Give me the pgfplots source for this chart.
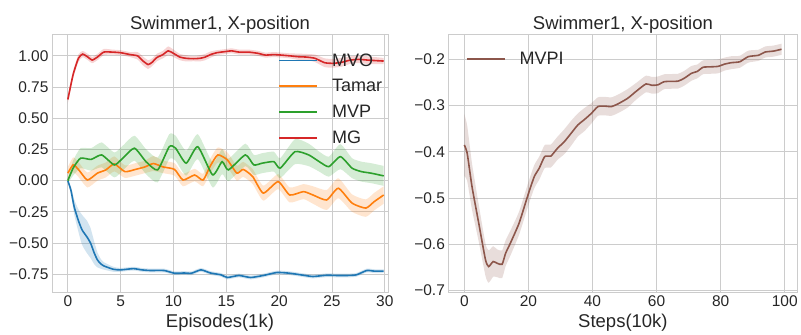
\documentclass[border=0pt]{standalone}
\usepackage{fontspec}
\setmainfont{Liberation Sans}
\usepackage{pgfplots}
\usepackage{pgfplotstable}
\pgfplotsset{compat=1.18}
\usepgfplotslibrary{fillbetween}
\definecolor{tabblue}{HTML}{1F77B4}
\definecolor{taborange}{HTML}{FF7F0E}
\definecolor{tabgreen}{HTML}{2CA02C}
\definecolor{tabred}{HTML}{D62728}
\definecolor{tabbrown}{HTML}{8C564B}
\definecolor{gridgray}{HTML}{CCCCCC}
\definecolor{txtgray}{HTML}{262626}

\pgfplotstableread{
x y e
0 0.65 0.03
0.5 0.85 0.03
1.0 0.98 0.03
1.4 1.014 0.025
1.9 0.99 0.025
2.3 0.966 0.025
2.8 0.99 0.025
3.4 1.03 0.025
4.2 1.03 0.02
5.0 1.025 0.02
5.9 1.01 0.02
6.6 1.0 0.03
7.1 0.96 0.035
7.6 0.93 0.035
8.0 0.95 0.03
8.4 0.985 0.03
9.0 1.01 0.03
9.5 1.04 0.035
10.0 1.02 0.03
10.6 0.99 0.025
11.2 0.98 0.025
11.9 0.977 0.02
12.5 0.98 0.025
13.0 0.99 0.025
13.5 1.01 0.025
14.1 1.025 0.02
15.0 1.035 0.02
15.5 1.04 0.02
16.2 1.03 0.02
17.1 1.03 0.02
18.0 1.02 0.02
18.7 1.006 0.02
19.5 1.01 0.02
20.2 1.006 0.02
21.0 1.0 0.02
21.8 0.993 0.025
22.6 0.99 0.025
23.4 0.98 0.03
24.3 0.945 0.035
25.1 0.94 0.035
25.9 0.948 0.035
26.7 0.965 0.03
27.5 0.972 0.03
28.5 0.965 0.03
29.9 0.958 0.025
}\mg

\pgfplotstableread{
x y e
0 0 0.0
0.3 -0.08 0.03
0.6 -0.21 0.06
1.0 -0.32 0.09
1.35 -0.395 0.12
1.8 -0.45 0.13
2.15 -0.50 0.12
2.5 -0.58 0.09
2.8 -0.635 0.06
3.1 -0.665 0.04
3.4 -0.683 0.03
4.3 -0.71 0.02
5.0 -0.715 0.015
6.2 -0.705 0.015
7.0 -0.715 0.015
7.8 -0.72 0.015
9.1 -0.72 0.015
10.1 -0.742 0.015
11.0 -0.74 0.015
11.7 -0.742 0.015
12.6 -0.715 0.015
13.5 -0.74 0.015
14.5 -0.755 0.015
15.1 -0.776 0.015
16.2 -0.76 0.015
17.3 -0.776 0.015
18.5 -0.76 0.015
19.8 -0.736 0.015
21.0 -0.742 0.015
22.3 -0.758 0.015
23.2 -0.768 0.015
24.5 -0.758 0.015
25.5 -0.76 0.015
26.4 -0.76 0.015
27.3 -0.755 0.015
28.3 -0.72 0.015
29.0 -0.725 0.015
29.9 -0.725 0.015
}\mvo

\pgfplotstableread{
x y e
0 0.06 0.05
0.5 0.126 0.06
1.0 0.09 0.06
1.85 0.005 0.06
2.8 0.06 0.06
3.6 0.086 0.06
4.4 0.134 0.06
5.4 0.072 0.05
6.4 0.09 0.05
7.3 0.11 0.05
8.1 0.137 0.06
9.0 0.11 0.05
10.1 0.09 0.05
10.9 0.005 0.05
12.0 0.045 0.05
12.8 0.005 0.05
13.5 0.12 0.06
14.2 0.206 0.06
15.1 0.166 0.06
16.0 0.06 0.06
16.6 0.09 0.06
17.5 0.032 0.06
18.5 -0.10 0.06
19.9 -0.008 0.06
21.0 -0.115 0.06
22.3 -0.088 0.06
23.2 -0.115 0.07
24.5 -0.155 0.08
25.6 -0.061 0.08
26.9 -0.18 0.07
28.2 -0.22 0.07
29.0 -0.168 0.07
29.9 -0.115 0.07
}\tamar

\pgfplotstableread{
x y e
0 0 0.02
0.5 0.1 0.06
1.2 0.18 0.08
2.2 0.17 0.09
3.2 0.206 0.1
4.4 0.126 0.1
5.2 0.18 0.1
6.3 0.26 0.1
7.4 0.152 0.1
8.5 0.086 0.1
9.6 0.272 0.1
10.2 0.26 0.1
11.2 0.14 0.1
12.3 0.272 0.1
13.7 0.046 0.1
14.6 0.152 0.1
15.2 0.086 0.09
16.8 0.206 0.09
17.6 0.126 0.08
18.4 0.14 0.08
19.5 0.152 0.08
20.1 0.10 0.08
21.5 0.232 0.1
22.8 0.206 0.09
23.8 0.152 0.08
24.7 0.112 0.08
25.8 0.192 0.1
26.9 0.10 0.08
27.8 0.072 0.08
28.7 0.06 0.08
29.9 0.038 0.08
}\mvp

\pgfplotstableread{
x y e
0 -0.385 0.067
0.9 -0.403 0.06
2.4 -0.475 0.05
4.5 -0.554 0.04
6.6 -0.633 0.035
7.6 -0.648 0.035
9.0 -0.637 0.033
10.3 -0.641 0.03
11.8 -0.643 0.03
12.9 -0.619 0.028
14.4 -0.597 0.027
17.1 -0.554 0.025
19.7 -0.497 0.025
21.8 -0.454 0.025
23.4 -0.435 0.025
25.1 -0.41 0.025
27.0 -0.409 0.025
29.1 -0.392 0.025
31.2 -0.378 0.027
33.3 -0.36 0.027
35.4 -0.342 0.025
37.5 -0.33 0.025
39.6 -0.317 0.022
41.7 -0.302 0.02
43.8 -0.301 0.02
45.9 -0.302 0.02
48.0 -0.296 0.02
51.0 -0.284 0.02
53.8 -0.268 0.018
56.7 -0.253 0.018
58.5 -0.256 0.018
60.4 -0.255 0.018
62.5 -0.248 0.016
66.7 -0.247 0.016
68.8 -0.24 0.016
70.9 -0.23 0.016
72.7 -0.226 0.015
74.5 -0.217 0.015
77.0 -0.216 0.015
79.2 -0.215 0.015
81.3 -0.21 0.014
83.4 -0.207 0.014
86.0 -0.205 0.013
88.6 -0.194 0.013
91.8 -0.191 0.012
93.9 -0.184 0.012
96.5 -0.182 0.012
99.0 -0.178 0.012
}\mvpi

\pgfplotsset{
  sbstyle/.style={
    scale only axis,
    height=258.5pt,
    axis line style={draw=gridgray, line width=0.9pt},
    grid=major,
    major grid style={draw=gridgray, line width=0.9pt},
    major tick length=0pt,
    tick label style={font=\fontsize{15.5}{18}\selectfont, text=txtgray},
    /pgf/number format/assume math mode=true,
    title style={font=\fontsize{18.5}{22}\selectfont, text=txtgray, yshift=-9pt},
    label style={font=\fontsize{18.5}{22}\selectfont, text=txtgray},
    legend style={draw=none, fill=none, anchor=north west,
      font=\fontsize{18}{21}\selectfont, text=txtgray,
      row sep=7.8pt, column sep=12pt, inner sep=0pt},
    legend cell align=left,
    legend image code/.code={\draw[#1, line width=1.9pt] (0pt,0pt) -- (38pt,0pt);},
  },
  band/.style={fill=#1, fill opacity=0.2, draw=none, forget plot},
  ln/.style={draw=#1, line width=1.6pt, smooth, tension=0.35, forget plot},
  bd/.style={draw=none, forget plot, smooth, tension=0.35},
}

\begin{document}
\begin{tikzpicture}
\path (0,0) rectangle (801pt,333pt);
\begin{axis}[sbstyle,
  at={(52pt,40.5pt)}, anchor=south west,
  width=336pt,
  xmin=-1.5, xmax=30.3, ymin=-0.896, ymax=1.175,
  xtick={0,5,10,15,20,25,30},
  ytick={-0.75,-0.5,-0.25,0,0.25,0.5,0.75,1},
  yticklabels={−0.75,−0.50,−0.25,0.00,0.25,0.50,0.75,1.00},
  title={Swimmer1, X-position},
  xlabel={Episodes(1k)},
  legend style={at={(axis description cs:0.673,0.933)}},
]
\addlegendimage{draw=tabblue}
\addlegendimage{draw=taborange}
\addlegendimage{draw=tabgreen}
\addlegendimage{draw=tabred}
\addplot[name path=aU, bd] table[x=x, y expr=\thisrow{y}+\thisrow{e}] {\mvo};
\addplot[name path=aL, bd] table[x=x, y expr=\thisrow{y}-\thisrow{e}] {\mvo};
\addplot[band=tabblue] fill between[of=aU and aL];
\addplot[ln=tabblue] table[x=x, y=y] {\mvo};
\addplot[name path=bU, bd] table[x=x, y expr=\thisrow{y}+\thisrow{e}] {\tamar};
\addplot[name path=bL, bd] table[x=x, y expr=\thisrow{y}-\thisrow{e}] {\tamar};
\addplot[band=taborange] fill between[of=bU and bL];
\addplot[ln=taborange] table[x=x, y=y] {\tamar};
\addplot[name path=cU, bd] table[x=x, y expr=\thisrow{y}+\thisrow{e}] {\mvp};
\addplot[name path=cL, bd] table[x=x, y expr=\thisrow{y}-\thisrow{e}] {\mvp};
\addplot[band=tabgreen] fill between[of=cU and cL];
\addplot[ln=tabgreen] table[x=x, y=y] {\mvp};
\addplot[name path=dU, bd] table[x=x, y expr=\thisrow{y}+\thisrow{e}] {\mg};
\addplot[name path=dL, bd] table[x=x, y expr=\thisrow{y}-\thisrow{e}] {\mg};
\addplot[band=tabred] fill between[of=dU and dL];
\addplot[ln=tabred] table[x=x, y=y] {\mg};
\legend{MVO,Tamar,MVP,MG}
\end{axis}

\begin{axis}[sbstyle,
  at={(448.5pt,40.5pt)}, anchor=south west,
  width=349pt,
  xmin=-4.95, xmax=103.95, ymin=-0.704, ymax=-0.145,
  xtick={0,20,40,60,80,100},
  ytick={-0.7,-0.6,-0.5,-0.4,-0.3,-0.2},
  yticklabels={−0.7,−0.6,−0.5,−0.4,−0.3,−0.2},
  title={Swimmer1, X-position},
  xlabel={Steps(10k)},
  legend style={at={(axis description cs:0.049,0.937)}},
]
\addlegendimage{draw=tabbrown}
\addplot[name path=eU, bd] table[x=x, y expr=\thisrow{y}+\thisrow{e}] {\mvpi};
\addplot[name path=eL, bd] table[x=x, y expr=\thisrow{y}-\thisrow{e}] {\mvpi};
\addplot[band=tabbrown] fill between[of=eU and eL];
\addplot[ln=tabbrown] table[x=x, y=y] {\mvpi};
\legend{MVPI}
\end{axis}
\end{tikzpicture}
\end{document}
